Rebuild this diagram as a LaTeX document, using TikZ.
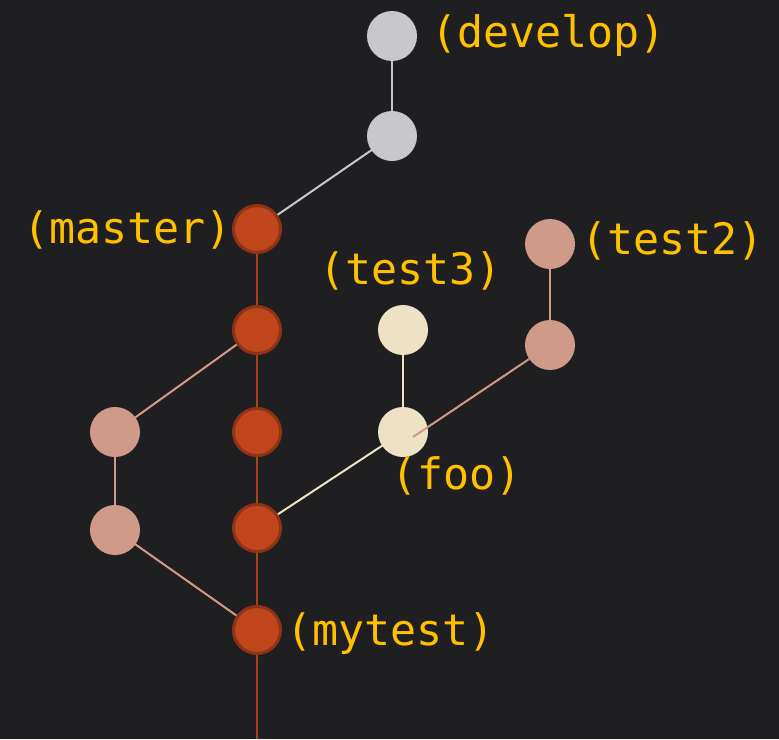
\documentclass[tikz,border=0pt]{standalone}
\usepackage{fontspec}
\setmonofont{DejaVu Sans Mono}
\definecolor{bg}{HTML}{1F1F21}
\definecolor{grayc}{HTML}{C8C8CA}
\definecolor{redc}{HTML}{C0471C}
\definecolor{redb}{HTML}{8E3315}
\definecolor{pinkc}{HTML}{D09A88}
\definecolor{creamc}{HTML}{EDE2C4}
\definecolor{gold}{HTML}{FFC000}
\tikzset{
  commit/.style={circle,minimum size=50pt,inner sep=0pt},
  graycommit/.style={commit,fill=grayc},
  redcommit/.style={commit,fill=redc,draw=redb,line width=3pt,minimum size=47pt},
  pinkcommit/.style={commit,fill=pinkc},
  creamcommit/.style={commit,fill=creamc},
  lbl/.style={text=gold,inner sep=0pt,anchor=base west,font=\fontsize{43.3}{43.3}\selectfont\ttfamily},
  grayline/.style={draw=grayc,line width=2pt},
  redline/.style={draw=redc!90!black,line width=2.2pt},
  pinkline/.style={draw=pinkc,line width=2pt},
  creamline/.style={draw=creamc,line width=2pt}
}
\begin{document}
\begin{tikzpicture}[x=1pt,y=-1pt]
\fill[bg] (0,0) rectangle (779,739);
\useasboundingbox (0,0) rectangle (779,739);
% coordinates
\coordinate (bottom) at (257,739);
\coordinate (fooend) at (413,437);
% edges (behind nodes)
\path[grayline] (392,36) -- (392,136);
\path[grayline] (392,136) -- (257,229);
\path[redline] (257,229) -- (bottom);
\path[pinkline] (257,330) -- (115,432);
\path[pinkline] (115,432) -- (115,530);
\path[pinkline] (115,530) -- (257,630);
\path[creamline] (257,528) -- (403,432);
\path[creamline] (403,330) -- (403,432);
\path[pinkline] (550,244) -- (550,345);
% nodes
\node[graycommit] (dev) at (392,36) {};
\node[graycommit] (dev2) at (392,136) {};
\node[redcommit] (master) at (257,229) {};
\node[redcommit] (r2) at (257,330) {};
\node[redcommit] (r3) at (257,432) {};
\node[redcommit] (r4) at (257,528) {};
\node[redcommit] (mytest) at (257,630) {};
\node[pinkcommit] (l1) at (115,432) {};
\node[pinkcommit] (l2) at (115,530) {};
\node[creamcommit] (test3) at (403,330) {};
\node[creamcommit] (foo) at (403,432) {};
\node[pinkcommit] (test2) at (550,244) {};
\node[pinkcommit] (t2b) at (550,345) {};
% edge over foo
\draw[pinkline] (t2b) -- (fooend);
% labels
\node[lbl] (ldev) at (431,47) {(develop)};
\node[lbl] (lmaster) at (23,243) {(master)};
\node[lbl] (ltest3) at (319,284) {(test3)};
\node[lbl] (ltest2) at (581,254) {(test2)};
\node[lbl] (lfoo) at (391,489) {(foo)};
\node[lbl] (lmytest) at (286,645) {(mytest)};
\end{tikzpicture}
\end{document}
